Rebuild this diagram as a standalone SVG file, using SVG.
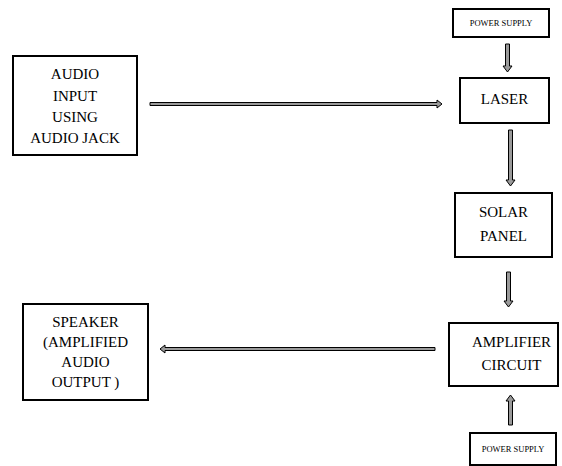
<svg xmlns="http://www.w3.org/2000/svg" width="562" height="466" viewBox="0 0 562 466">
  <style>
    .box { fill: #fff; stroke: #000; stroke-width: 2; }
    .lbl { font-family: "Liberation Serif", "Times New Roman", serif; font-size: 15px; fill: #000; text-anchor: middle; }
    .small { font-family: "Liberation Serif", "Times New Roman", serif; font-size: 8.5px; fill: #000; text-anchor: middle; }
    .arr { fill: #9a9a9a; stroke: #000; stroke-width: 1; stroke-linejoin: miter; }
  </style>
  <rect width="562" height="466" fill="#fff"/>

  <g id="connectors">
    <!-- power supply to laser -->
    <path class="arr" d="M505.5,44 L509.5,44 L509.5,66 L512,66 L507.5,72 L503,66 L505.5,66 Z"/>
    <!-- laser to solar panel -->
    <path class="arr" d="M508.5,130 L512.5,130 L512.5,180 L515,180 L510.5,186 L506,180 L508.5,180 Z"/>
    <!-- solar panel to amplifier -->
    <path class="arr" d="M506.5,272 L510.5,272 L510.5,301 L513,301 L508.5,307 L504,301 L506.5,301 Z"/>
    <!-- power supply up to amplifier -->
    <path class="arr" d="M508.5,425 L512.5,425 L512.5,401 L515,401 L510.5,395 L506,401 L508.5,401 Z"/>
    <!-- audio input to laser -->
    <path class="arr" d="M150,102.5 L437,102.5 L437,100 L442,104 L437,108 L437,105.5 L150,105.5 Z"/>
    <!-- amplifier to speaker -->
    <path class="arr" d="M435,347.5 L165,347.5 L165,345 L160,349 L165,353 L165,350.5 L435,350.5 Z"/>
  </g>

  <g id="power-supply-top">
    <rect class="box" x="453" y="9" width="96" height="28"/>
    <text class="small" x="501" y="26">POWER SUPPLY</text>
  </g>

  <g id="laser">
    <rect class="box" x="460" y="78" width="89" height="45"/>
    <text class="lbl" x="504.5" y="104">LASER</text>
  </g>

  <g id="audio-input">
    <rect class="box" x="13" y="56" width="124" height="99"/>
    <text class="lbl" x="75" y="79">AUDIO</text>
    <text class="lbl" x="75" y="101">INPUT</text>
    <text class="lbl" x="75" y="122">USING</text>
    <text class="lbl" x="75" y="143">AUDIO JACK</text>
  </g>

  <g id="solar-panel">
    <rect class="box" x="455" y="193" width="97" height="64"/>
    <text class="lbl" x="503.5" y="217">SOLAR</text>
    <text class="lbl" x="503.5" y="241">PANEL</text>
  </g>

  <g id="amplifier">
    <rect class="box" x="449" y="323" width="109" height="63"/>
    <text class="lbl" x="511.5" y="347">AMPLIFIER</text>
    <text class="lbl" x="511.5" y="370">CIRCUIT</text>
  </g>

  <g id="speaker">
    <rect class="box" x="23" y="304" width="125" height="96"/>
    <text class="lbl" x="85.5" y="327">SPEAKER</text>
    <text class="lbl" x="85.5" y="347">(AMPLIFIED</text>
    <text class="lbl" x="85.5" y="367">AUDIO</text>
    <text class="lbl" x="85.5" y="387">OUTPUT )</text>
  </g>

  <g id="power-supply-bottom">
    <rect class="box" x="470" y="433" width="86" height="32"/>
    <text class="small" x="513" y="452">POWER SUPPLY</text>
  </g>
</svg>
